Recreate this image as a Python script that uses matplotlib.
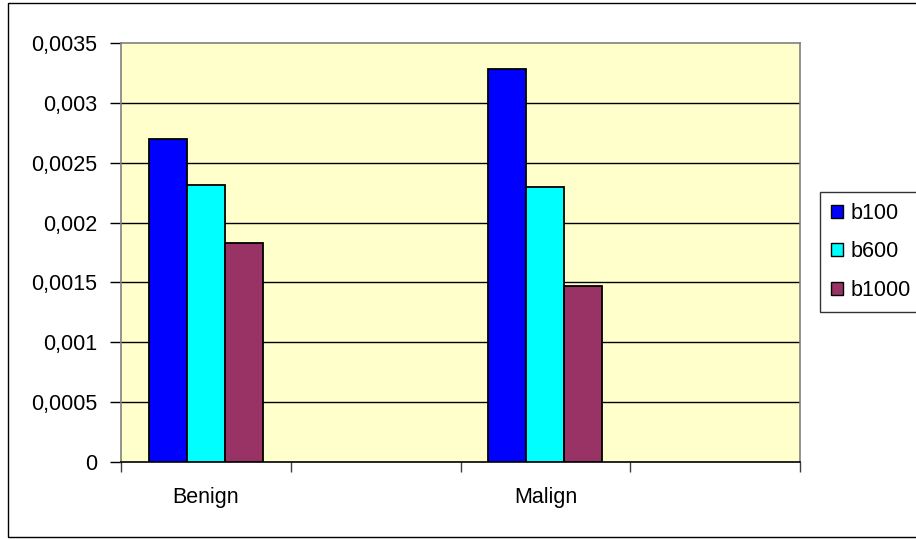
import matplotlib
matplotlib.use("Agg")
import matplotlib.pyplot as plt
from matplotlib.patches import Rectangle, Patch
import numpy as np

plt.rcParams['font.family'] = ['Liberation Sans', 'DejaVu Sans']

# Data
categories = ["Benign", "", "Malign", ""]
series_names = ["b100", "b600", "b1000"]
b100 = [0.0027, None, 0.00328, None]
b600 = [0.00231, None, 0.0023, None]
b1000 = [0.00183, None, 0.00147, None]
series_values = [b100, b600, b1000]
series_colors = ["#0000FF", "#00FFFF", "#993366"]
y_ticks = [0, 0.0005, 0.001, 0.0015, 0.002, 0.0025, 0.003, 0.0035]
y_tick_labels = ["0", "0,0005", "0,001", "0,0015", "0,002", "0,0025", "0,003", "0,0035"]

FS = 15.5
W, H = 916, 540
fig = plt.figure(figsize=(W / 100, H / 100), dpi=100)
fig.patch.set_facecolor("white")

# Outer chart frame
fig.patches.append(Rectangle((8 / W, 3 / H), 1.0, 534 / H, transform=fig.transFigure,
                             fill=False, edgecolor="black", linewidth=1.0, zorder=0))

ax = fig.add_axes([121 / W, 1 - 462 / H, 679 / W, 419 / H])
ax.set_facecolor("#FFFFCC")

n = len(categories)
x = np.arange(n) + 0.5
bar_w = 38 / 170
for k, (vals, name, col) in enumerate(zip(series_values, series_names, series_colors)):
    xs = [xi + (k - 1) * bar_w for xi, v in zip(x, vals) if v is not None]
    vs = [v for v in vals if v is not None]
    ax.bar(xs, vs, width=bar_w, color=col, edgecolor="black", linewidth=1.3,
           label=name, zorder=3)

ax.set_xlim(0, n)
ax.set_ylim(0, 0.0035)

# Gridlines
for yv in y_ticks[1:-1]:
    ax.axhline(yv, color="black", linewidth=1.0, zorder=1)

ax.set_yticks(y_ticks)
ax.set_yticklabels(y_tick_labels, fontsize=FS)
ax.tick_params(axis="y", direction="out", length=8, width=1, color="black", pad=9)

ax.set_xticks(np.arange(n + 1))
ax.set_xticklabels([])
ax.tick_params(axis="x", which="major", direction="out", length=7, width=1, color="#404040")
ax.set_xticks(x, minor=True)
ax.set_xticklabels(categories, minor=True, fontsize=FS)
ax.tick_params(axis="x", which="minor", length=0, pad=18)

for side in ["left", "top", "right"]:
    ax.spines[side].set_color("#808080")
    ax.spines[side].set_linewidth(1.2)
ax.spines["bottom"].set_color("black")
ax.spines["bottom"].set_linewidth(1.2)

handles = [Patch(facecolor=c, edgecolor="black", linewidth=1.0) for c in series_colors]
leg = fig.legend(handles, series_names, loc="upper left",
                 bbox_to_anchor=(820 / W, 1 - 192 / H), fontsize=FS,
                 frameon=True, fancybox=False, shadow=False,
                 handlelength=0.55, handleheight=0.55, handletextpad=0.35,
                 labelspacing=0.82, borderpad=0.5, borderaxespad=0)
leg.get_frame().set_edgecolor("black")
leg.get_frame().set_linewidth(1.0)

fig.savefig("out.png", dpi=100)
